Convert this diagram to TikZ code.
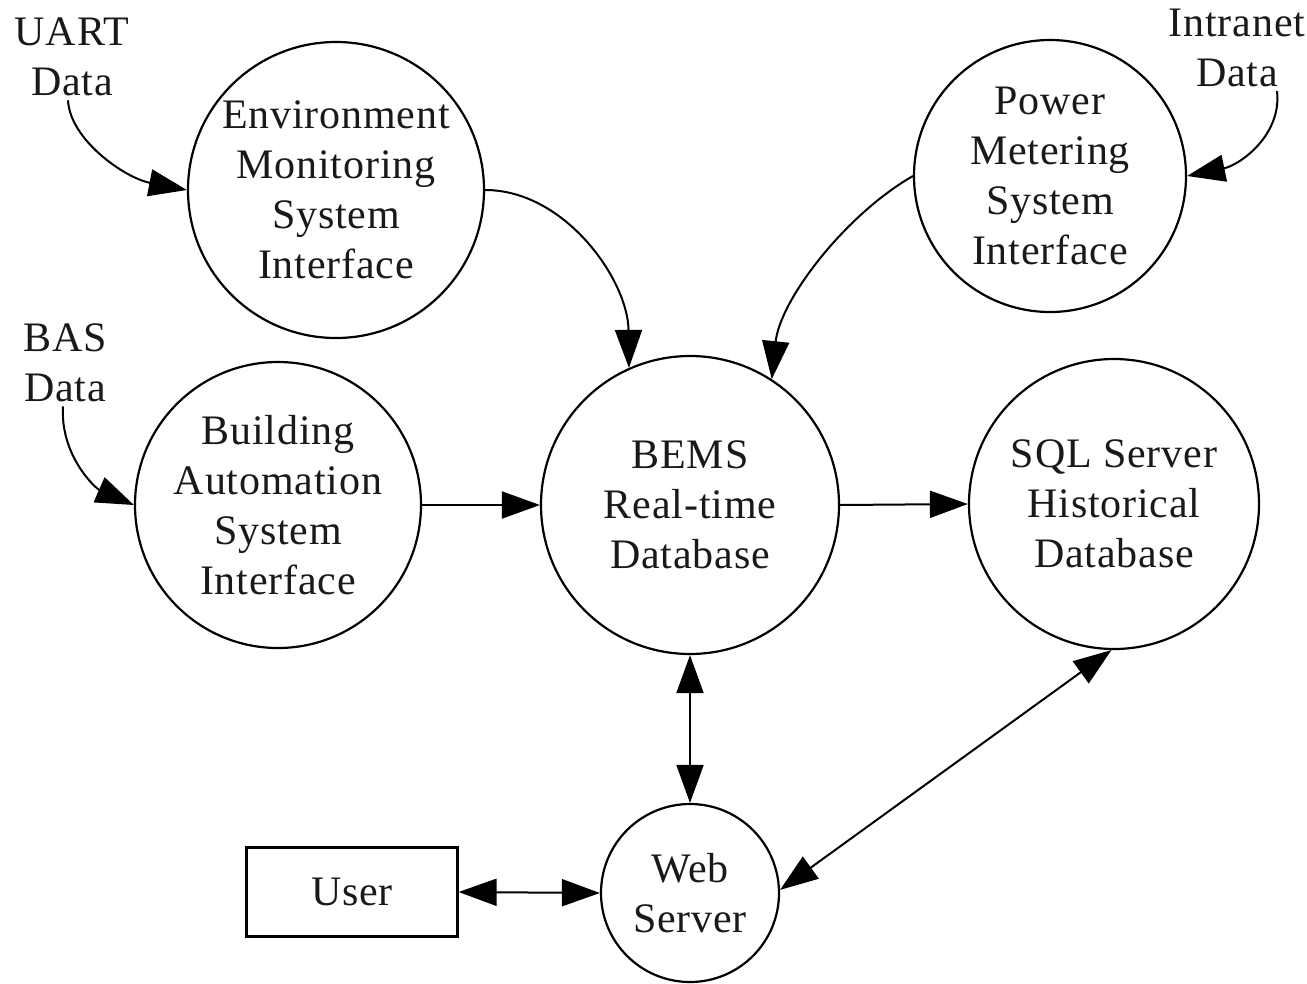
\documentclass[tikz,border=0pt]{standalone}
\usepackage{fontspec}
\setmainfont[LetterSpace=2]{Liberation Serif}
\usetikzlibrary{arrows.meta}

\begin{document}
\begin{tikzpicture}[x=1pt,y=-1pt,
  every node/.style={font=\fontsize{42}{50}\selectfont, align=center, text=black!90},
  proc/.style={draw, circle, line width=2.2pt, inner sep=0pt},
  ent/.style={draw, rectangle, line width=2.2pt, minimum width=211pt, minimum height=89pt},
  lbl/.style={inner sep=0pt},
  flow/.style={line width=2pt, -{Triangle[length=38pt,width=27pt]}},
  flow2/.style={line width=2pt, {Triangle[length=38pt,width=27pt]}-{Triangle[length=38pt,width=27pt]}}
]
\useasboundingbox (0,0) rectangle (1307,983);

% processes
\node[proc, minimum size=296pt] (env)   at (336,190) {Environment\\Monitoring\\System\\Interface};
\node[proc, minimum size=272pt] (power) at (1050,176) {Power\\Metering\\System\\Interface};
\node[proc, minimum size=286pt] (bas)   at (278,505) {Building\\Automation\\System\\Interface};
\node[proc, minimum size=298pt] (bems)  at (690,505) {BEMS\\Real-time\\Database};
\node[proc, minimum size=290pt] (sql)   at (1114,504) {SQL Server\\Historical\\Database};
\node[proc, minimum size=178pt] (web)   at (690,893) {Web\\Server};
\node[ent] (user) at (352,892) {User};

% external data sources
\node[lbl] (uart)     at (72,57)   {UART\\Data};
\node[lbl] (intranet) at (1237,48) {Intranet\\Data};
\node[lbl] (basdata)  at (65,363)  {BAS\\Data};

% incoming data
\draw[flow] ([xshift=-4pt,yshift=-4pt]uart.south) .. controls (70,140) and (125,178) .. (env.west);
\draw[flow] ([xshift=40pt,yshift=-4pt]intranet.south) .. controls (1282,135) and (1240,165) .. (power.east);
\draw[flow] ([xshift=-2pt,yshift=-4pt]basdata.south) .. controls (60,455) and (95,488) .. (bas.west);

% into the real-time database
\draw[flow] (env.east) .. controls (565,190) and (628,280) .. (bems.114);
\draw[flow] (power.west) .. controls (845,215) and (780,300) .. (bems.57);
\draw[flow] (bas.east) -- (bems.west);
\draw[flow] (bems.east) -- (sql.west);

% web access
\draw[flow2] (bems.south) -- (web.north);
\draw[flow2] (sql.-91) -- (web.2);
\draw[flow2] (user.east) -- (web.west);
\end{tikzpicture}
\end{document}
